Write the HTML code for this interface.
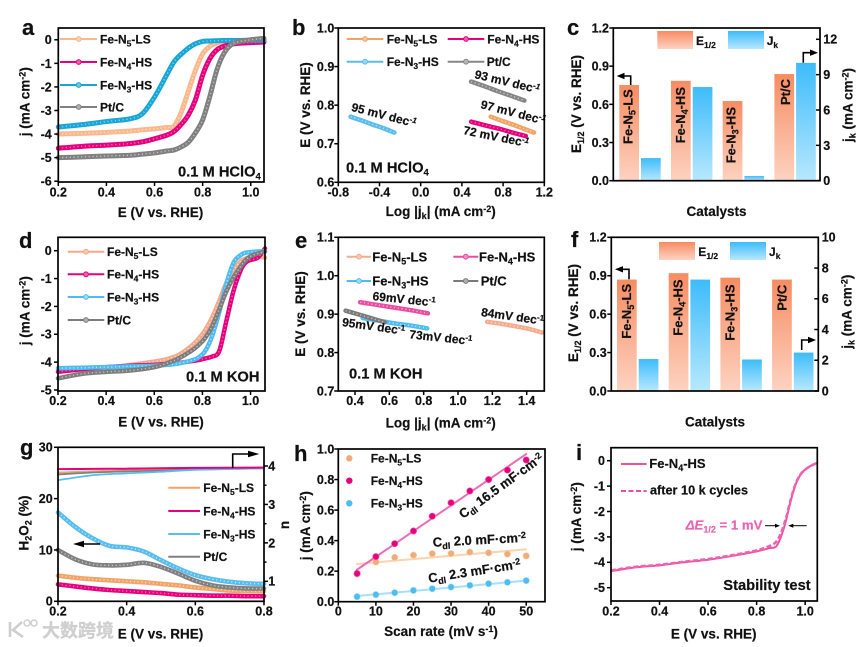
<!DOCTYPE html>
<html lang="en">
<head>
<meta charset="utf-8">
<title>Electrocatalyst ORR performance panels</title>
<style>
html,body{margin:0;padding:0;background:#fff;}
svg{display:block;font-family:"Liberation Sans","Noto Sans CJK SC",sans-serif;font-weight:bold;fill:#111;}
svg text{stroke:#111;stroke-width:0.2px;}
.t{font-size:12.5px;}
.lg{font-size:12px;}
.lg2{font-size:13px;}
.ti{font-size:13.5px;}
.pl{font-size:22px;}
.an{font-size:12px;}
.cd{font-size:13px;}
.nt{font-size:14.7px;}
.lk{stroke-width:2;fill:none;}
</style>
</head>
<body>
<svg id="figure" width="865" height="647" viewBox="0 0 865 647" xmlns="http://www.w3.org/2000/svg">
<defs>
<linearGradient id="gradE" x1="0" y1="0" x2="0" y2="1"><stop offset="0" stop-color="#f68c62"/><stop offset="1" stop-color="#fdd3c1"/></linearGradient>
<linearGradient id="gradJ" x1="0" y1="0" x2="0" y2="1"><stop offset="0" stop-color="#3dbcfa"/><stop offset="1" stop-color="#b8e8fe"/></linearGradient>
</defs>

<!-- Panel a -->
<g>
<g id="marks-a"></g>
<g>
<g><line class="lk" x1="60" x2="97" y1="39" y2="39" stroke="#f9b88d"/><circle cx="78.7" cy="39" r="2.4" fill="#fbd0b0" stroke="#f9b88d"/><text class="lg" x="100" y="43.3">Fe-N<tspan font-size="8.5" dy="3">5</tspan><tspan dy="-3">-LS</tspan></text></g>
<g><line class="lk" x1="60" x2="97" y1="62" y2="62" stroke="#e6007e"/><circle cx="78.7" cy="62" r="2.4" fill="#f060a8" stroke="#e6007e"/><text class="lg" x="100" y="66.3">Fe-N<tspan font-size="8.5" dy="3">4</tspan><tspan dy="-3">-HS</tspan></text></g>
<g><line class="lk" x1="60" x2="97" y1="85" y2="85" stroke="#17a6d6"/><circle cx="78.7" cy="85" r="2.4" fill="#6cc8e8" stroke="#17a6d6"/><text class="lg" x="100" y="89.3">Fe-N<tspan font-size="8.5" dy="3">3</tspan><tspan dy="-3">-HS</tspan></text></g>
<g><line class="lk" x1="60" x2="97" y1="107" y2="107" stroke="#808080"/><circle cx="78.7" cy="107" r="2.4" fill="#b0b0b0" stroke="#808080"/><text class="lg" x="100" y="111.3">Pt/C</text></g>
</g>
<text class="pl" x="22" y="35">a</text>
<text class="nt" x="178" y="176.7">0.1 M HClO<tspan font-size="9.5" dy="3">4</tspan></text>
<text class="ti" x="160.5" y="217" text-anchor="middle">E (V vs. RHE)</text>
<text class="ti" transform="translate(29.3,101.7) rotate(-90)" text-anchor="middle">j (mA cm<tspan font-size="9" dy="-4">-2</tspan><tspan dy="4">)</tspan></text>
</g>

<!-- Panel b -->
<g>
<g id="marks-b"></g>
<g>
<g><line class="lk" x1="346.7" x2="383.3" y1="39" y2="39" stroke="#f0a468"/><circle cx="365" cy="39" r="2.4" fill="#f6c49c" stroke="#f0a468"/><text class="lg" x="386.7" y="43.3">Fe-N<tspan font-size="8.5" dy="3">5</tspan><tspan dy="-3">-LS</tspan></text></g>
<g><line class="lk" x1="447.7" x2="484.3" y1="39" y2="39" stroke="#e6007e"/><circle cx="466" cy="39" r="2.4" fill="#f060a8" stroke="#e6007e"/><text class="lg" x="487.3" y="43.3">Fe-N<tspan font-size="8.5" dy="3">4</tspan><tspan dy="-3">-HS</tspan></text></g>
<g><line class="lk" x1="346.7" x2="383.3" y1="61.7" y2="61.7" stroke="#5bbcec"/><circle cx="365" cy="61.7" r="2.4" fill="#9cd8f4" stroke="#5bbcec"/><text class="lg" x="386.7" y="66">Fe-N<tspan font-size="8.5" dy="3">3</tspan><tspan dy="-3">-HS</tspan></text></g>
<g><line class="lk" x1="447.7" x2="484.3" y1="61.7" y2="61.7" stroke="#868686"/><circle cx="466" cy="61.7" r="2.4" fill="#b8b8b8" stroke="#868686"/><text class="lg" x="486.7" y="66">Pt/C</text></g>
</g>
<text class="pl" x="292" y="35">b</text>
<text class="nt" x="346" y="172.7">0.1 M HClO<tspan font-size="9.5" dy="3">4</tspan></text>
<text class="an" transform="translate(350.7,110.7) rotate(14.5)">95 mV dec<tspan font-size="8" dy="-4" font-style="italic">-1</tspan></text>
<text class="an" transform="translate(474,78) rotate(13.5)">93 mV dec<tspan font-size="8" dy="-4" font-style="italic">-1</tspan></text>
<text class="an" transform="translate(480,108) rotate(14.5)">97 mV dec<tspan font-size="8" dy="-4" font-style="italic">-1</tspan></text>
<text class="an" transform="translate(462.7,134) rotate(11.5)">72 mV dec<tspan font-size="8" dy="-4" font-style="italic">-1</tspan></text>
<text class="ti" x="440.7" y="216" text-anchor="middle">Log |j<tspan font-size="9" dy="3">k</tspan><tspan dy="-3">| (mA cm</tspan><tspan font-size="9" dy="-4">-2</tspan><tspan dy="4">)</tspan></text>
<text class="ti" transform="translate(310,105) rotate(-90)" text-anchor="middle">E (V vs. RHE)</text>
</g>

<!-- Panel c -->
<g>
<g id="marks-c"></g>
<g>
<g><rect x="657.3" y="31" width="35.7" height="18" fill="url(#gradE)"/><text class="lg" x="696" y="45">E<tspan font-size="8.5" dy="3">1/2</tspan></text></g>
<g><rect x="728" y="31" width="36" height="18" fill="url(#gradJ)"/><text class="lg" x="766.7" y="45">J<tspan font-size="8.5" dy="3">k</tspan></text></g>
</g>
<g>
<text class="lg2" transform="translate(632.3,144) rotate(-90)">Fe-N<tspan font-size="9" dy="3">5</tspan><tspan dy="-3">-LS</tspan></text>
<text class="lg2" transform="translate(685,143.3) rotate(-90)">Fe-N<tspan font-size="9" dy="3">4</tspan><tspan dy="-3">-HS</tspan></text>
<text class="lg2" transform="translate(735.7,163.3) rotate(-90)">Fe-N<tspan font-size="9" dy="3">3</tspan><tspan dy="-3">-HS</tspan></text>
<text class="lg2" transform="translate(790,105) rotate(-90)">Pt/C</text>
</g>
<g><path d="M630.7 85V76H620" fill="none" stroke="#000" stroke-width="1.6"/><polygon points="616.7,76 624.5,72.8 624.5,79.2" fill="#000"/></g>
<g><path d="M803.3 62.7V52.7H814" fill="none" stroke="#000" stroke-width="1.6"/><polygon points="818,52.7 810,49.5 810,55.9" fill="#000"/></g>
<text class="pl" x="567" y="35">c</text>
<text class="ti" x="716.5" y="216" text-anchor="middle">Catalysts</text>
<text class="ti" transform="translate(581,104) rotate(-90)" text-anchor="middle">E<tspan font-size="9" dy="3">1/2</tspan><tspan dy="-3"> (V vs. RHE)</tspan></text>
<text class="ti" transform="translate(852.7,105) rotate(-90)" text-anchor="middle">j<tspan font-size="9" dy="3">k</tspan><tspan dy="-3"> (mA cm</tspan><tspan font-size="9" dy="-4">-2</tspan><tspan dy="4">)</tspan></text>
</g>

<!-- Panel d -->
<g>
<g id="marks-d"></g>
<g>
<g><line class="lk" x1="67.7" x2="104.3" y1="251.7" y2="251.7" stroke="#f5a98b"/><circle cx="86" cy="251.7" r="2.4" fill="#fac8b4" stroke="#f5a98b"/><text class="lg" x="107" y="256">Fe-N<tspan font-size="8.5" dy="3">5</tspan><tspan dy="-3">-LS</tspan></text></g>
<g><line class="lk" x1="67.7" x2="104.3" y1="274.3" y2="274.3" stroke="#e6007e"/><circle cx="86" cy="274.3" r="2.4" fill="#f060a8" stroke="#e6007e"/><text class="lg" x="107" y="278.6">Fe-N<tspan font-size="8.5" dy="3">4</tspan><tspan dy="-3">-HS</tspan></text></g>
<g><line class="lk" x1="67.7" x2="104.3" y1="297" y2="297" stroke="#4dbcf0"/><circle cx="86" cy="297" r="2.4" fill="#9cdcf8" stroke="#4dbcf0"/><text class="lg" x="107" y="301.3">Fe-N<tspan font-size="8.5" dy="3">3</tspan><tspan dy="-3">-HS</tspan></text></g>
<g><line class="lk" x1="67.7" x2="104.3" y1="320" y2="320" stroke="#7d7d7d"/><circle cx="86" cy="320" r="2.4" fill="#b0b0b0" stroke="#7d7d7d"/><text class="lg" x="107" y="324.3">Pt/C</text></g>
</g>
<text class="pl" x="19" y="248">d</text>
<text class="nt" x="186" y="381.7">0.1 M KOH</text>
<text class="ti" x="161" y="426.7" text-anchor="middle">E (V vs. RHE)</text>
<text class="ti" transform="translate(29.3,310.7) rotate(-90)" text-anchor="middle">j (mA cm<tspan font-size="9" dy="-4">-2</tspan><tspan dy="4">)</tspan></text>
</g>

<!-- Panel e -->
<g>
<g id="marks-e"></g>
<g>
<g><line class="lk" x1="346.7" x2="371" y1="256.7" y2="256.7" stroke="#f6ab8c"/><circle cx="359" cy="256.7" r="2.4" fill="#fac8b4" stroke="#f6ab8c"/><text class="lg2" x="372.3" y="261.3">Fe-N<tspan font-size="9" dy="3">5</tspan><tspan dy="-3">-LS</tspan></text></g>
<g><line class="lk" x1="453.3" x2="478.3" y1="256.7" y2="256.7" stroke="#ec4ca0"/><circle cx="465.8" cy="256.7" r="2.4" fill="#f48cc4" stroke="#ec4ca0"/><text class="lg2" x="479" y="261.3">Fe-N<tspan font-size="9" dy="3">4</tspan><tspan dy="-3">-HS</tspan></text></g>
<g><line class="lk" x1="346.7" x2="371" y1="281" y2="281" stroke="#4dbcf0"/><circle cx="359" cy="281" r="2.4" fill="#9cdcf8" stroke="#4dbcf0"/><text class="lg2" x="372.3" y="285.6">Fe-N<tspan font-size="9" dy="3">3</tspan><tspan dy="-3">-HS</tspan></text></g>
<g><line class="lk" x1="453.3" x2="478.3" y1="281" y2="281" stroke="#7a7a7a"/><circle cx="465.8" cy="281" r="2.4" fill="#b0b0b0" stroke="#7a7a7a"/><text class="lg2" x="480.7" y="285.6">Pt/C</text></g>
</g>
<text class="pl" x="295" y="248">e</text>
<text class="nt" x="349" y="378.3">0.1 M KOH</text>
<text class="an" transform="translate(372.3,300) rotate(6)">69mV dec<tspan font-size="8" dy="-4">-1</tspan></text>
<text class="an" transform="translate(480.7,316) rotate(8)">84mV dec<tspan font-size="8" dy="-4">-1</tspan></text>
<text class="an" transform="translate(341.7,326) rotate(8)">95mV dec<tspan font-size="8" dy="-4">-1</tspan></text>
<text class="an" transform="translate(409,338.3) rotate(6)">73mV dec<tspan font-size="8" dy="-4">-1</tspan></text>
<text class="ti" x="440.7" y="427.3" text-anchor="middle">Log |j<tspan font-size="9" dy="3">k</tspan><tspan dy="-3">| (mA cm</tspan><tspan font-size="9" dy="-4">-2</tspan><tspan dy="4">)</tspan></text>
<text class="ti" transform="translate(305,314) rotate(-90)" text-anchor="middle">E (V vs. RHE)</text>
</g>

<!-- Panel f -->
<g>
<g id="marks-f"></g>
<g>
<g><rect x="659" y="242" width="36" height="18" fill="url(#gradE)"/><text class="lg" x="698.3" y="256">E<tspan font-size="8.5" dy="3">1/2</tspan></text></g>
<g><rect x="730" y="242" width="36" height="18" fill="url(#gradJ)"/><text class="lg" x="769" y="256">J<tspan font-size="8.5" dy="3">k</tspan></text></g>
</g>
<g>
<text class="lg2" transform="translate(631,338.7) rotate(-90)">Fe-N<tspan font-size="9" dy="3">5</tspan><tspan dy="-3">-LS</tspan></text>
<text class="lg2" transform="translate(682.7,335.7) rotate(-90)">Fe-N<tspan font-size="9" dy="3">4</tspan><tspan dy="-3">-HS</tspan></text>
<text class="lg2" transform="translate(734.3,340.7) rotate(-90)">Fe-N<tspan font-size="9" dy="3">3</tspan><tspan dy="-3">-HS</tspan></text>
<text class="lg2" transform="translate(786.7,310.7) rotate(-90)">Pt/C</text>
</g>
<g><path d="M629 279.3V269.3H618" fill="none" stroke="#000" stroke-width="1.6"/><polygon points="615,269.3 623,266.1 623,272.5" fill="#000"/></g>
<g><path d="M801.7 350V340H812" fill="none" stroke="#000" stroke-width="1.6"/><polygon points="816,340 808,336.8 808,343.2" fill="#000"/></g>
<text class="pl" x="571" y="247">f</text>
<text class="ti" x="715" y="426.7" text-anchor="middle">Catalysts</text>
<text class="ti" transform="translate(578,313) rotate(-90)" text-anchor="middle">E<tspan font-size="9" dy="3">1/2</tspan><tspan dy="-3"> (V vs. RHE)</tspan></text>
<text class="ti" transform="translate(851.7,311.7) rotate(-90)" text-anchor="middle">j<tspan font-size="9" dy="3">k</tspan><tspan dy="-3"> (mA cm</tspan><tspan font-size="9" dy="-4">-2</tspan><tspan dy="4">)</tspan></text>
</g>

<!-- Panel g -->
<g>
<g id="marks-g"></g>
<g>
<g><line class="lk" x1="168.3" x2="200" y1="487.7" y2="487.7" stroke="#f0a468"/><text class="lg" x="203.3" y="492">Fe-N<tspan font-size="8.5" dy="3">5</tspan><tspan dy="-3">-LS</tspan></text></g>
<g><line class="lk" x1="168.3" x2="200" y1="511" y2="511" stroke="#e6007e"/><text class="lg" x="203.3" y="515.3">Fe-N<tspan font-size="8.5" dy="3">4</tspan><tspan dy="-3">-HS</tspan></text></g>
<g><line class="lk" x1="168.3" x2="200" y1="534" y2="534" stroke="#58bdec"/><text class="lg" x="203.3" y="538.3">Fe-N<tspan font-size="8.5" dy="3">3</tspan><tspan dy="-3">-HS</tspan></text></g>
<g><line class="lk" x1="168.3" x2="200" y1="556.7" y2="556.7" stroke="#808080"/><text class="lg" x="203.3" y="561">Pt/C</text></g>
</g>
<g><line x1="100" x2="78" y1="544" y2="544" stroke="#000" stroke-width="1.6"/><polygon points="73,544 84,540.8 84,547.2" fill="#000"/></g>
<g><path d="M232.7 468V454H254" fill="none" stroke="#000" stroke-width="1.6"/><polygon points="259.3,454 248,450.8 248,457.2" fill="#000"/></g>
<text class="pl" x="20" y="455">g</text>
<text class="ti" x="160.5" y="638.3" text-anchor="middle">E (V vs. RHE)</text>
<text class="ti" transform="translate(28.3,523) rotate(-90)" text-anchor="middle">H<tspan font-size="9" dy="3">2</tspan><tspan dy="-3">O</tspan><tspan font-size="9" dy="3">2</tspan><tspan dy="-3"> (%)</tspan></text>
<text class="ti" transform="translate(289,525) rotate(-90)" text-anchor="middle">n</text>
</g>

<!-- Panel h -->
<g>
<g id="marks-h"></g>
<g>
<g><circle cx="349.3" cy="458.3" r="3.2" fill="#f0ac78"/><text class="lg" x="370.7" y="462.6">Fe-N<tspan font-size="8.5" dy="3">5</tspan><tspan dy="-3">-LS</tspan></text></g>
<g><circle cx="349.3" cy="480.7" r="3.2" fill="#e6007e"/><text class="lg" x="370.7" y="485">Fe-N<tspan font-size="8.5" dy="3">4</tspan><tspan dy="-3">-HS</tspan></text></g>
<g><circle cx="349.3" cy="503.3" r="3.2" fill="#4dbcf0"/><text class="lg" x="370.7" y="507.6">Fe-N<tspan font-size="8.5" dy="3">3</tspan><tspan dy="-3">-HS</tspan></text></g>
</g>
<text class="pl" x="294" y="461">h</text>
<text class="cd" transform="translate(463,519) rotate(-36)">C<tspan font-size="9" dy="3">dl</tspan><tspan dy="-3"> 16.5 mF·cm</tspan><tspan font-size="9" dy="-4">-2</tspan></text>
<text class="cd" transform="translate(433,546.7) rotate(-3)">C<tspan font-size="9" dy="3">dl</tspan><tspan dy="-3"> 2.0 mF·cm</tspan><tspan font-size="9" dy="-4">-2</tspan></text>
<text class="cd" transform="translate(429,582.7) rotate(-9)">C<tspan font-size="9" dy="3">dl</tspan><tspan dy="-3"> 2.3 mF·cm</tspan><tspan font-size="9" dy="-4">-2</tspan></text>
<text class="ti" x="441" y="636" text-anchor="middle">Scan rate (mV s<tspan font-size="9" dy="-4">-1</tspan><tspan dy="4">)</tspan></text>
<text class="ti" transform="translate(310,525.7) rotate(-90)" text-anchor="middle">j (mA cm<tspan font-size="9" dy="-4">-2</tspan><tspan dy="4">)</tspan></text>
</g>

<!-- Panel i -->
<g>
<g id="marks-i"></g>
<g>
<g><line class="lk" x1="621" x2="646.7" y1="464" y2="464" stroke="#ec4fa6"/><text class="lg2" x="649.3" y="468">Fe-N<tspan font-size="9" dy="3">4</tspan><tspan dy="-3">-HS</tspan></text></g>
<g><line class="lk" x1="621" x2="646.7" y1="491" y2="491" stroke="#ec4fa6" stroke-dasharray="5 2.5"/><text class="lg" x="650" y="494.5" style="font-size:12.7px">after 10 k cycles</text></g>
</g>
<text class="pl" x="576" y="460">i</text>
<text x="685.7" y="529.3" font-size="13.2" style="fill:#ef62b0;stroke:#ef62b0"><tspan font-style="italic">ΔE</tspan><tspan font-size="9" dy="3">1/2</tspan><tspan dy="-3"> = 1 mV</tspan></text>
<g><line x1="765" x2="777" y1="525.7" y2="525.7" stroke="#000" stroke-width="1"/><polygon points="780,525.7 775,523.7 775,527.7" fill="#000"/><line x1="806.7" x2="791" y1="525.7" y2="525.7" stroke="#000" stroke-width="1"/><polygon points="788.3,525.7 793.3,523.7 793.3,527.7" fill="#000"/></g>
<text class="nt" x="723.3" y="590">Stability test</text>
<text class="ti" x="713.7" y="638.3" text-anchor="middle">E (V vs. RHE)</text>
<text class="ti" transform="translate(581,516.7) rotate(-90)" text-anchor="middle">j (mA cm<tspan font-size="9" dy="-4">-2</tspan><tspan dy="4">)</tspan></text>
</g>

<!-- Watermark -->
<g>
<path d="M10 622V637M22 622L13 630L23 637" fill="none" stroke="#cfcfcf" stroke-width="2.6"/>
<circle cx="27" cy="623" r="3" fill="none" stroke="#cfcfcf" stroke-width="1.5"/>
<circle cx="34" cy="623" r="3" fill="none" stroke="#cfcfcf" stroke-width="1.5"/>
<text x="42" y="637" font-size="18" style="fill:#cfcfcf;stroke:#cfcfcf;stroke-width:0.3px;font-family:'Liberation Sans','Noto Sans CJK SC',sans-serif;font-weight:bold">大数跨境</text>
</g>
</svg>

<script>
/* ---------- Panel a data: ORR polarisation in HClO4 ---------- */
const aPotential = [0.2,0.3,0.4,0.5,0.55,0.6,0.65,0.68,0.71,0.74,0.77,0.8,0.83,0.86,0.89,0.92,0.95,1.0,1.055];
const aFeN5 = [-4.0,-3.97,-3.93,-3.87,-3.82,-3.78,-3.72,-3.67,-3.1,-2.2,-1.3,-0.6,-0.28,-0.13,-0.08,-0.05,-0.03,-0.02,-0.01];
const aFeN4 = [-4.6,-4.52,-4.47,-4.4,-4.33,-4.2,-4.05,-3.9,-3.6,-3.2,-2.55,-1.5,-0.8,-0.42,-0.27,-0.19,-0.15,-0.12,-0.1];
const aFeN3 = [-3.7,-3.6,-3.47,-3.35,-3.13,-2.43,-1.5,-0.95,-0.62,-0.36,-0.17,-0.07,-0.05,-0.04,-0.03,-0.03,-0.03,-0.02,-0.02];
const aPtC = [-5.0,-4.97,-4.93,-4.9,-4.85,-4.8,-4.72,-4.68,-4.55,-4.35,-3.95,-3.4,-2.4,-1.25,-0.55,-0.2,-0.08,0.0,0.06];
const aXTicks = [0.2,0.4,0.6,0.8,1.0];
const aYTicks = [0,-1,-2,-3,-4,-5,-6];

/* ---------- Panel b data: Tafel in HClO4 ---------- */
const bFeN5Log = [0.68,0.78,0.89,1.0,1.10];
const bFeN5E = [0.77,0.76,0.75,0.739,0.729];
const bFeN4Log = [0.49,0.62,0.76,0.89,1.02];
const bFeN4E = [0.757,0.748,0.739,0.729,0.72];
const bFeN3Log = [-0.68,-0.57,-0.47,-0.36,-0.256];
const bFeN3E = [0.77,0.76,0.75,0.74,0.729];
const bPtLog = [0.49,0.62,0.75,0.88,1.006];
const bPtE = [0.861,0.849,0.836,0.824,0.812];
const bXTicks = [-0.8,-0.4,0.0,0.4,0.8,1.2];
const bYTicks = [0.6,0.7,0.8,0.9,1.0];

/* ---------- Panel c data: bars in HClO4 ---------- */
const cCategories = ["Fe-N5-LS","Fe-N4-HS","Fe-N3-HS","Pt/C"];
const cEHalf = [0.752,0.785,0.626,0.838];
const cJk = [1.92,7.95,0.4,10.0];
const cLeftTicks = [0.0,0.3,0.6,0.9,1.2];
const cRightTicks = [0,3,6,9,12];

/* ---------- Panel d data: ORR polarisation in KOH ---------- */
const dPotential = [0.2,0.3,0.4,0.5,0.6,0.65,0.7,0.75,0.78,0.81,0.84,0.87,0.9,0.93,0.96,0.98,1.0,1.03,1.06];
const dFeN5 = [-4.3,-4.28,-4.2,-4.1,-3.98,-3.9,-3.75,-3.45,-3.2,-2.87,-2.4,-1.8,-1.15,-0.68,-0.37,-0.28,-0.23,-0.2,-0.25];
const dFeN4 = [-4.35,-4.25,-4.18,-4.13,-4.1,-4.07,-4.03,-3.97,-3.93,-3.87,-3.8,-3.6,-2.5,-1.42,-0.68,-0.42,-0.33,-0.25,0.08];
const dFeN3 = [-4.22,-4.2,-4.18,-4.15,-4.13,-4.1,-4.05,-3.95,-3.85,-3.62,-3.07,-2.2,-1.17,-0.42,-0.15,-0.07,-0.05,-0.03,-0.02];
const dPtC = [-4.58,-4.42,-4.35,-4.3,-4.18,-4.05,-3.87,-3.62,-3.42,-3.15,-2.72,-2.1,-1.45,-0.95,-0.55,-0.33,-0.2,-0.1,-0.03];
const dXTicks = [0.2,0.4,0.6,0.8,1.0];
const dYTicks = [0,-1,-2,-3,-4,-5];

/* ---------- Panel e data: Tafel in KOH ---------- */
const eFeN5Log = [1.17,1.25,1.34,1.42,1.49];
const eFeN5E = [0.88,0.875,0.868,0.861,0.852];
const eFeN4Log = [0.43,0.53,0.63,0.73,0.825];
const eFeN4E = [0.931,0.924,0.917,0.91,0.902];
const eFeN3Log = [0.445,0.54,0.63,0.73,0.82];
const eFeN3E = [0.89,0.883,0.876,0.87,0.863];
const ePtLog = [0.345,0.40,0.46,0.52,0.573];
const ePtE = [0.909,0.902,0.894,0.886,0.879];
const eXTicks = [0.4,0.6,0.8,1.0,1.2,1.4];
const eYTicks = [0.7,0.8,0.9,1.0,1.1];

/* ---------- Panel f data: bars in KOH ---------- */
const fCategories = ["Fe-N5-LS","Fe-N4-HS","Fe-N3-HS","Pt/C"];
const fEHalf = [0.87,0.92,0.885,0.87];
const fJk = [2.08,7.25,2.05,2.5];
const fLeftTicks = [0.0,0.3,0.6,0.9,1.2];
const fRightTicks = [0,2,4,6,8,10];

/* ---------- Panel g data: peroxide yield and electron number ---------- */
const gPotential = [0.2,0.25,0.3,0.35,0.4,0.45,0.5,0.55,0.6,0.65,0.7,0.75,0.8];
const gH2O2FeN5 = [5.0,4.6,4.3,4.1,3.9,3.7,3.4,3.1,2.7,2.4,2.1,2.0,2.0];
const gH2O2FeN4 = [3.3,2.9,2.5,2.2,2.0,1.8,1.6,1.3,1.2,1.1,1.1,1.0,1.0];
const gH2O2FeN3 = [17.3,14.5,12.3,10.8,10.5,9.7,8.0,6.4,5.1,4.3,3.8,3.5,3.4];
const gH2O2Pt = [10.0,8.2,7.2,7.0,7.1,7.5,6.7,5.4,4.0,3.1,2.7,2.5,2.5];
const gElectronPotential = [0.2,0.3,0.4,0.5,0.6,0.8];
const gNFeN5 = [3.83,3.86,3.89,3.90,3.91,3.94];
const gNFeN4 = [3.92,3.925,3.93,3.94,3.95,3.96];
const gNFeN3 = [3.63,3.76,3.81,3.85,3.90,3.94];
const gNPt = [3.78,3.83,3.86,3.88,3.91,3.95];
const gXTicks = [0.2,0.4,0.6,0.8];
const gLeftTicks = [0,10,20,30];
const gRightTicks = [1,2,3,4];
const gRightMinor = [1.5,2.5,3.5];

/* ---------- Panel h data: double-layer capacitance ---------- */
const hScanRate = [5,10,15,20,25,30,35,40,45,50];
const hFeN5 = [0.18,0.26,0.29,0.305,0.315,0.315,0.325,0.32,0.312,0.30];
const hFeN4 = [0.185,0.295,0.38,0.463,0.56,0.648,0.725,0.80,0.862,0.928];
const hFeN3 = [0.033,0.046,0.059,0.074,0.085,0.096,0.107,0.118,0.127,0.138];
const hFitX = [5,50];
const hFitFeN5 = [0.247,0.343];
const hFitFeN4 = [0.21,0.967];
const hFitFeN3 = [0.037,0.138];
const hXTicks = [0,10,20,30,40,50];
const hYTicks = [0.0,0.2,0.4,0.6,0.8,1.0];

/* ---------- Panel i data: stability test ---------- */
const iPotential = [0.2,0.3,0.4,0.5,0.6,0.7,0.8,0.85,0.88,0.9,0.92,0.94,0.96,0.98,1.0,1.02,1.05];
const iFresh = [-4.35,-4.2,-4.12,-4.0,-3.9,-3.75,-3.57,-3.45,-3.38,-3.0,-2.4,-1.6,-0.95,-0.56,-0.35,-0.22,-0.08];
const iAfter = [-4.32,-4.18,-4.1,-3.98,-3.87,-3.72,-3.53,-3.37,-3.2,-2.85,-2.3,-1.55,-0.93,-0.55,-0.35,-0.22,-0.08];
const iXTicks = [0.2,0.4,0.6,0.8,1.0];
const iYTicks = [0,-1,-2,-3,-4,-5];

/* ---------- helpers ---------- */
const NS = 'http://www.w3.org/2000/svg';
const fig = document.getElementById('figure');
function make(tag, parent) {
  const el = document.createElementNS(NS, tag);
  parent.appendChild(el);
  return el;
}
function linear(d0, d1, r0, r1) {
  return function (v) { return r0 + (v - d0) * (r1 - r0) / (d1 - d0); };
}
function pathFrom(xs, ys, sx, sy) {
  const px = xs.map(sx);
  const py = ys.map(sy);
  const last = px.length - 1;
  let d = 'M' + px[0].toFixed(2) + ' ' + py[0].toFixed(2);
  for (let i = 0; i < last; i++) {
    const a = Math.max(i - 1, 0);
    const b = Math.min(i + 2, last);
    const c1x = px[i] + (px[i + 1] - px[a]) / 6;
    const c1y = py[i] + (py[i + 1] - py[a]) / 6;
    const c2x = px[i + 1] - (px[b] - px[i]) / 6;
    const c2y = py[i + 1] - (py[b] - py[i]) / 6;
    d += 'C' + c1x.toFixed(2) + ' ' + c1y.toFixed(2) + ' ' + c2x.toFixed(2) + ' ' + c2y.toFixed(2) + ' ' + px[i + 1].toFixed(2) + ' ' + py[i + 1].toFixed(2);
  }
  return d;
}
function curve(parent, name, xs, ys, sx, sy, color, width, ring, dash) {
  const p = make('path', parent);
  
  
  p.setAttribute('d', pathFrom(xs, ys, sx, sy));
  p.setAttribute('fill', 'none');
  p.setAttribute('stroke', color);
  p.setAttribute('stroke-width', width);
  p.setAttribute('stroke-linecap', dash ? 'butt' : 'round');
  p.setAttribute('stroke-linejoin', 'round');
  if (dash) p.setAttribute('stroke-dasharray', dash);
  if (ring) {
    const r = make('path', parent);
    
    
    r.setAttribute('d', pathFrom(xs, ys, sx, sy));
    r.setAttribute('fill', 'none');
    r.setAttribute('stroke', ring);
    r.setAttribute('stroke-width', 1.4);
    r.setAttribute('stroke-dasharray', '1.2 2.6');
  }
}
function frame(box) {
  const f = make('rect', fig);
  
  
  f.setAttribute('x', box.l);
  f.setAttribute('y', box.t);
  f.setAttribute('width', box.r - box.l);
  f.setAttribute('height', box.b - box.t);
  f.setAttribute('fill', 'none');
  f.setAttribute('stroke', '#000');
  f.setAttribute('stroke-width', 1.7);
}
function tickLine(parent, x1, y1, x2, y2) {
  const t = make('line', parent);
  
  
  t.setAttribute('x1', x1); t.setAttribute('y1', y1);
  t.setAttribute('x2', x2); t.setAttribute('y2', y2);
  t.setAttribute('stroke', '#000');
  t.setAttribute('stroke-width', 1.5);
}
function tickText(parent, x, y, anchor, str) {
  const t = make('text', parent);
  
  
  t.setAttribute('class', 't');
  t.setAttribute('x', x);
  t.setAttribute('y', y);
  t.setAttribute('text-anchor', anchor);
  t.textContent = str;
}
function xAxis(box, sx, ticks, digits, labelY) {
  const g = make('g', fig);
  
  
  ticks.forEach(function (v) {
    tickLine(g, sx(v), box.b, sx(v), box.b + 4);
    tickText(g, sx(v), labelY, 'middle', v.toFixed(digits));
  });
}
function yAxis(box, sy, ticks, digits, labelX) {
  const g = make('g', fig);
  
  
  ticks.forEach(function (v) {
    tickLine(g, box.l, sy(v), box.l - 4, sy(v));
    tickText(g, labelX, sy(v) + 4.4, 'end', v.toFixed(digits));
  });
}
function rightAxis(box, sy, ticks, labelX, dir, minor) {
  const g = make('g', fig);
  
  
  ticks.forEach(function (v) {
    tickLine(g, box.r, sy(v), box.r + dir * 4, sy(v));
    tickText(g, labelX, sy(v) + 4.4, 'start', String(v));
  });
  (minor || []).forEach(function (v) {
    tickLine(g, box.r, sy(v), box.r + dir * 2.5, sy(v));
  });
}
function bars(parent, box, cats, eVals, jVals, sE, sJ, x0, step) {
  cats.forEach(function (cat, i) {
    const key = cat.toLowerCase().replace('/', '-');
    const e = make('rect', parent);
    
    
    e.setAttribute('x', x0 + i * step);
    e.setAttribute('width', 19.7);
    e.setAttribute('y', sE(eVals[i]));
    e.setAttribute('height', box.b - sE(eVals[i]));
    e.setAttribute('fill', 'url(#gradE)');
    const j = make('rect', parent);
    
    
    j.setAttribute('x', x0 + i * step + 21.7);
    j.setAttribute('width', 19.7);
    j.setAttribute('y', sJ(jVals[i]));
    j.setAttribute('height', box.b - sJ(jVals[i]));
    j.setAttribute('fill', 'url(#gradJ)');
  });
}
function points(parent, name, xs, ys, sx, sy, color, hi) {
  xs.forEach(function (x, i) {
    const c = make('circle', parent);
    
    
    c.setAttribute('cx', sx(x));
    c.setAttribute('cy', sy(ys[i]));
    c.setAttribute('r', 3.2);
    c.setAttribute('fill', color);
    c.setAttribute('stroke', hi);
    c.setAttribute('stroke-width', 0.6);
  });
}

/* ---------- Panel a ---------- */
(function () {
  const box = {name: 'panel-a', l: 58.3, r: 264, t: 28, b: 182};
  const sx = linear(0.2, 1.055, box.l, box.r);
  const sy = linear(-6, 0.5, 181.2, 28);
  const g = document.getElementById('marks-a');
  curve(g, 'curve-fe-n5-ls', aPotential, aFeN5, sx, sy, '#f9b88d', 5, '#fde0c8');
  curve(g, 'curve-fe-n4-hs', aPotential, aFeN4, sx, sy, '#e6007e', 5, '#f56db0');
  curve(g, 'curve-fe-n3-hs', aPotential, aFeN3, sx, sy, '#17a6d6', 5, '#80d4f0');
  curve(g, 'curve-pt-c', aPotential, aPtC, sx, sy, '#808080', 5, '#c4c4c4');
  frame(box);
  xAxis(box, sx, aXTicks, 1, 196.7);
  yAxis(box, sy, aYTicks, 0, 51.7);
})();

/* ---------- Panel b ---------- */
(function () {
  const box = {name: 'panel-b', l: 338.3, r: 544.3, t: 28, b: 182.3};
  const sx = linear(-0.8, 1.2, box.l, box.r);
  const sy = linear(0.6, 1.0, box.b, box.t);
  const g = document.getElementById('marks-b');
  curve(g, 'line-fe-n5-ls', bFeN5Log, bFeN5E, sx, sy, '#f0a468', 4.6, '#fad6b8');
  curve(g, 'line-fe-n4-hs', bFeN4Log, bFeN4E, sx, sy, '#e6007e', 4.6, '#f56db0');
  curve(g, 'line-fe-n3-hs', bFeN3Log, bFeN3E, sx, sy, '#5bbcec', 4.6, '#b4e2f8');
  curve(g, 'line-pt-c', bPtLog, bPtE, sx, sy, '#868686', 4.6, '#c8c8c8');
  frame(box);
  xAxis(box, sx, bXTicks, 1, 196.7);
  yAxis(box, sy, bYTicks, 1, 334.3);
})();

/* ---------- Panel c ---------- */
(function () {
  const box = {name: 'panel-c', l: 613.3, r: 820, t: 28, b: 180.7};
  const sE = linear(0, 1.2, box.b, box.t);
  const sJ = linear(0, 12, box.b, 39.3);
  bars(document.getElementById('marks-c'), box, cCategories, cEHalf, cJk, sE, sJ, 619.3, 51.7);
  frame(box);
  yAxis(box, sE, cLeftTicks, 1, 609);
  rightAxis(box, sJ, cRightTicks, 823.3, -1);
})();

/* ---------- Panel d ---------- */
(function () {
  const box = {name: 'panel-d', l: 58, r: 265, t: 237.3, b: 391};
  const sx = linear(0.2, 1.06, box.l, box.r);
  const sy = linear(-5, 0, 390, 250.7);
  const g = document.getElementById('marks-d');
  curve(g, 'curve-fe-n5-ls', dPotential, dFeN5, sx, sy, '#f5a98b', 4.5, '#fcd8c8');
  curve(g, 'curve-fe-n4-hs', dPotential, dFeN4, sx, sy, '#e6007e', 4.5, '#f56db0');
  curve(g, 'curve-fe-n3-hs', dPotential, dFeN3, sx, sy, '#4dbcf0', 4.5, '#b4e4fa');
  curve(g, 'curve-pt-c', dPotential, dPtC, sx, sy, '#7d7d7d', 4.5, '#c4c4c4');
  frame(box);
  xAxis(box, sx, dXTicks, 1, 405);
  yAxis(box, sy, dYTicks, 0, 51.7);
})();

/* ---------- Panel e ---------- */
(function () {
  const box = {name: 'panel-e', l: 338.3, r: 544.3, t: 237.3, b: 391};
  const sx = linear(0.4, 1.4, 355, 526.7);
  const sy = linear(0.7, 1.1, box.b, box.t);
  const g = document.getElementById('marks-e');
  curve(g, 'line-fe-n5-ls', eFeN5Log, eFeN5E, sx, sy, '#f6ab8c', 4.5, '#fcdccc');
  curve(g, 'line-fe-n4-hs', eFeN4Log, eFeN4E, sx, sy, '#ec4ca0', 4.5, '#f8b0d4');
  curve(g, 'line-fe-n3-hs', eFeN3Log, eFeN3E, sx, sy, '#4dbcf0', 4.5, '#b4e4fa');
  curve(g, 'line-pt-c', ePtLog, ePtE, sx, sy, '#7a7a7a', 4.5, '#c4c4c4');
  frame(box);
  xAxis(box, sx, eXTicks, 1, 405);
  yAxis(box, sy, eYTicks, 1, 334.3);
})();

/* ---------- Panel f ---------- */
(function () {
  const box = {name: 'panel-f', l: 611.3, r: 818.3, t: 237.3, b: 391};
  const sE = linear(0, 1.2, box.b, box.t);
  const sJ = linear(0, 10, box.b, box.t);
  bars(document.getElementById('marks-f'), box, fCategories, fEHalf, fJk, sE, sJ, 617, 51.7);
  frame(box);
  yAxis(box, sE, fLeftTicks, 1, 606.7);
  rightAxis(box, sJ, fRightTicks, 821.7, -1);
})();

/* ---------- Panel g ---------- */
(function () {
  const box = {name: 'panel-g', l: 58, r: 264, t: 447.3, b: 601.3};
  const sx = linear(0.2, 0.8, box.l, box.r);
  const sy = linear(0, 30, box.b, box.t);
  const sN = linear(1, 4, 581.3, 466);
  const g = document.getElementById('marks-g');
  curve(g, 'h2o2-fe-n5-ls', gPotential, gH2O2FeN5, sx, sy, '#f0a468', 4.6, '#fad6b8');
  curve(g, 'h2o2-fe-n4-hs', gPotential, gH2O2FeN4, sx, sy, '#e6007e', 4.6, '#f56db0');
  curve(g, 'h2o2-fe-n3-hs', gPotential, gH2O2FeN3, sx, sy, '#58bdec', 4.6, '#bce6fa');
  curve(g, 'h2o2-pt-c', gPotential, gH2O2Pt, sx, sy, '#808080', 4.6, '#c8c8c8');
  curve(g, 'electron-number-fe-n5-ls', gElectronPotential, gNFeN5, sx, sN, '#f0a468', 1.8);
  curve(g, 'electron-number-pt-c', gElectronPotential, gNPt, sx, sN, '#808080', 1.8);
  curve(g, 'electron-number-fe-n3-hs', gElectronPotential, gNFeN3, sx, sN, '#58bdec', 1.8);
  curve(g, 'electron-number-fe-n4-hs', gElectronPotential, gNFeN4, sx, sN, '#e6007e', 2);
  frame(box);
  xAxis(box, sx, gXTicks, 1, 615.7);
  yAxis(box, sy, gLeftTicks, 0, 52.7);
  rightAxis(box, sN, gRightTicks, 268.3, 1, gRightMinor);
})();

/* ---------- Panel h ---------- */
(function () {
  const box = {name: 'panel-h', l: 338.3, r: 545, t: 449, b: 601.7};
  const sx = linear(0, 55, box.l, box.r);
  const sy = linear(0, 1, box.b, box.t);
  const g = document.getElementById('marks-h');
  curve(g, 'fit-fe-n5-ls', hFitX, hFitFeN5, sx, sy, '#fbd3ae', 2);
  curve(g, 'fit-fe-n3-hs', hFitX, hFitFeN3, sx, sy, '#a5e0f8', 2);
  curve(g, 'fit-fe-n4-hs', hFitX, hFitFeN4, sx, sy, '#ec6bb5', 2);
  points(g, 'point-fe-n5-ls', hScanRate, hFeN5, sx, sy, '#f0ac78', '#f8d0ac');
  points(g, 'point-fe-n3-hs', hScanRate, hFeN3, sx, sy, '#4dbcf0', '#a0defa');
  points(g, 'point-fe-n4-hs', hScanRate, hFeN4, sx, sy, '#e6007e', '#f060a8');
  frame(box);
  xAxis(box, sx, hXTicks, 0, 615.7);
  yAxis(box, sy, hYTicks, 1, 334.3);
})();

/* ---------- Panel i ---------- */
(function () {
  const box = {name: 'panel-i', l: 611, r: 817.3, t: 447.7, b: 601};
  const sx = linear(0.2, 1.05, box.l, box.r);
  const sy = linear(-5, 0, 587.7, 460.7);
  const g = document.getElementById('marks-i');
  curve(g, 'curve-fresh', iPotential, iFresh, sx, sy, '#ec4fa6', 2);
  curve(g, 'curve-after-cycles', iPotential, iAfter, sx, sy, '#ef62b0', 2.6, null, '5 2.5');
  frame(box);
  xAxis(box, sx, iXTicks, 1, 615.7);
  yAxis(box, sy, iYTicks, 0, 605);
})();
</script>
</body>
</html>
